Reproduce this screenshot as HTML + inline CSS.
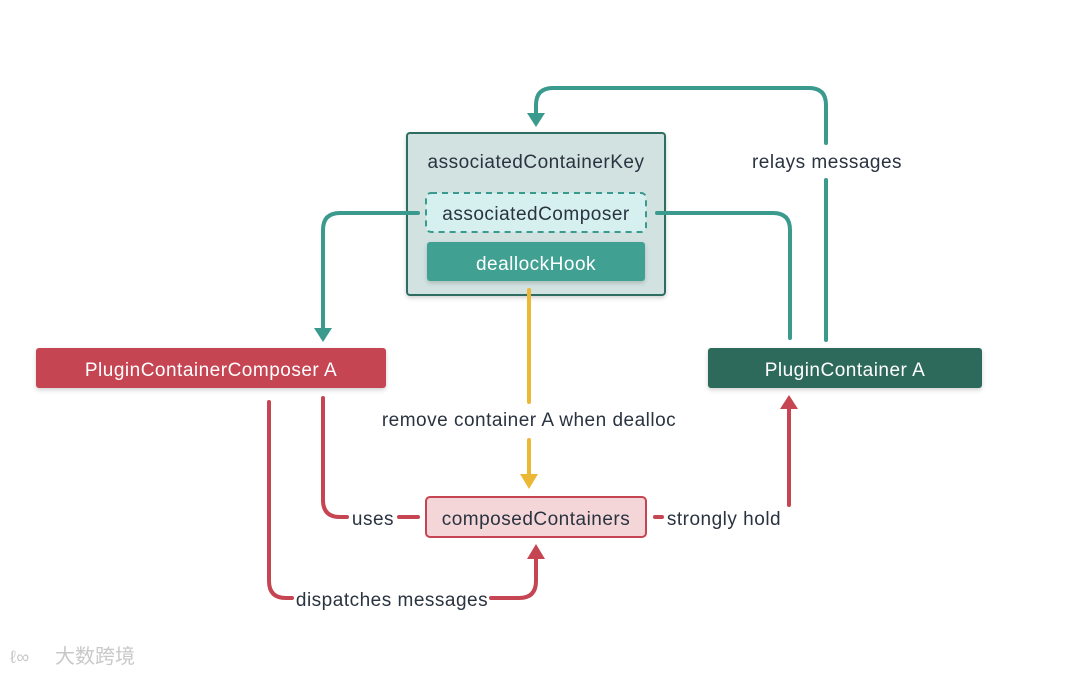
<!DOCTYPE html>
<html><head><meta charset="utf-8"><style>
html,body{margin:0;padding:0;background:#fff;width:1080px;height:676px;overflow:hidden}
text{font-family:"Liberation Sans","DejaVu Sans",sans-serif;font-size:19px;letter-spacing:0.5px;fill:#2a3340}
</style></head><body>
<svg width="1080" height="676" viewBox="0 0 1080 676" xmlns="http://www.w3.org/2000/svg">
<defs><filter id="sh" x="-10%" y="-20%" width="120%" height="150%"><feDropShadow dx="0" dy="2" stdDeviation="2" flood-color="#000" flood-opacity="0.18"/></filter></defs>
<!-- main box -->
<rect x="407" y="133" width="258" height="162" rx="3" fill="#d2e2e1" stroke="#2e6e62" stroke-width="2" filter="url(#sh)"/>
<g fill="none" stroke-width="4" stroke-linecap="round" stroke-linejoin="round">
<g stroke="#3a9a8e">
<path d="M418,213 H340 Q323,213 323,230 V328"/>
<path d="M657,213 H773 Q790,213 790,230 V338"/>
<path d="M826,340 V180 M826,143 V105 Q826,88 809,88 H553 Q536,88 536,105 V114"/>
</g>
<g stroke="#ecb735">
<path d="M529,290 V402 M529,440 V474"/>
</g>
<g stroke="#c64552">
<path d="M323,398 V500 Q323,517 340,517 H347"/>
<path d="M399,517 H418"/>
<path d="M655,517 H662"/>
<path d="M789,505 V408"/>
<path d="M269,402 V581 Q269,598 286,598 H292"/>
<path d="M491,598 H519 Q536,598 536,581 V558"/>
</g>
</g>
<polygon points="314,328 332,328 323,342" fill="#3a9a8e"/>
<polygon points="527,113 545,113 536,127" fill="#3a9a8e"/>
<polygon points="520,474 538,474 529,489" fill="#ecb735"/>
<polygon points="780,409 798,409 789,395" fill="#c64552"/>
<polygon points="527,559 545,559 536,544" fill="#c64552"/>
<text x="536" y="168" text-anchor="middle">associatedContainerKey</text>
<rect x="426" y="193" width="220" height="39" rx="5" fill="#d5f0ee" stroke="#3a9a8e" stroke-width="2" stroke-dasharray="6,5"/>
<text x="536" y="220" text-anchor="middle">associatedComposer</text>
<rect x="427" y="242" width="218" height="39" rx="3" fill="#3fa193" filter="url(#sh)"/>
<text x="536" y="270" text-anchor="middle" style="fill:#fff">deallockHook</text>
<rect x="36" y="348" width="350" height="40" rx="3" fill="#c64552" filter="url(#sh)"/>
<text x="211" y="376" text-anchor="middle" style="fill:#fff">PluginContainerComposer A</text>
<rect x="708" y="348" width="274" height="40" rx="3" fill="#2e6b5b" filter="url(#sh)"/>
<text x="845" y="376" text-anchor="middle" style="fill:#fff">PluginContainer A</text>
<rect x="426" y="497" width="220" height="40" rx="4" fill="#f4d6d8" stroke="#c64552" stroke-width="2"/>
<text x="536" y="525" text-anchor="middle">composedContainers</text>
<text x="827" y="168" text-anchor="middle">relays messages</text>
<text x="529" y="426" text-anchor="middle">remove container A when dealloc</text>
<text x="373" y="525" text-anchor="middle">uses</text>
<text x="724" y="525" text-anchor="middle">strongly hold</text>
<text x="392" y="606" text-anchor="middle">dispatches messages</text>
<text x="55" y="663" style="fill:#c8c8c8;font-family:'Noto Sans CJK SC',sans-serif;font-size:20px;letter-spacing:0">大数跨境</text>
<text x="10" y="663" style="fill:#c8c8c8;font-size:18px">ℓ∞</text>
</svg>
</body></html>
